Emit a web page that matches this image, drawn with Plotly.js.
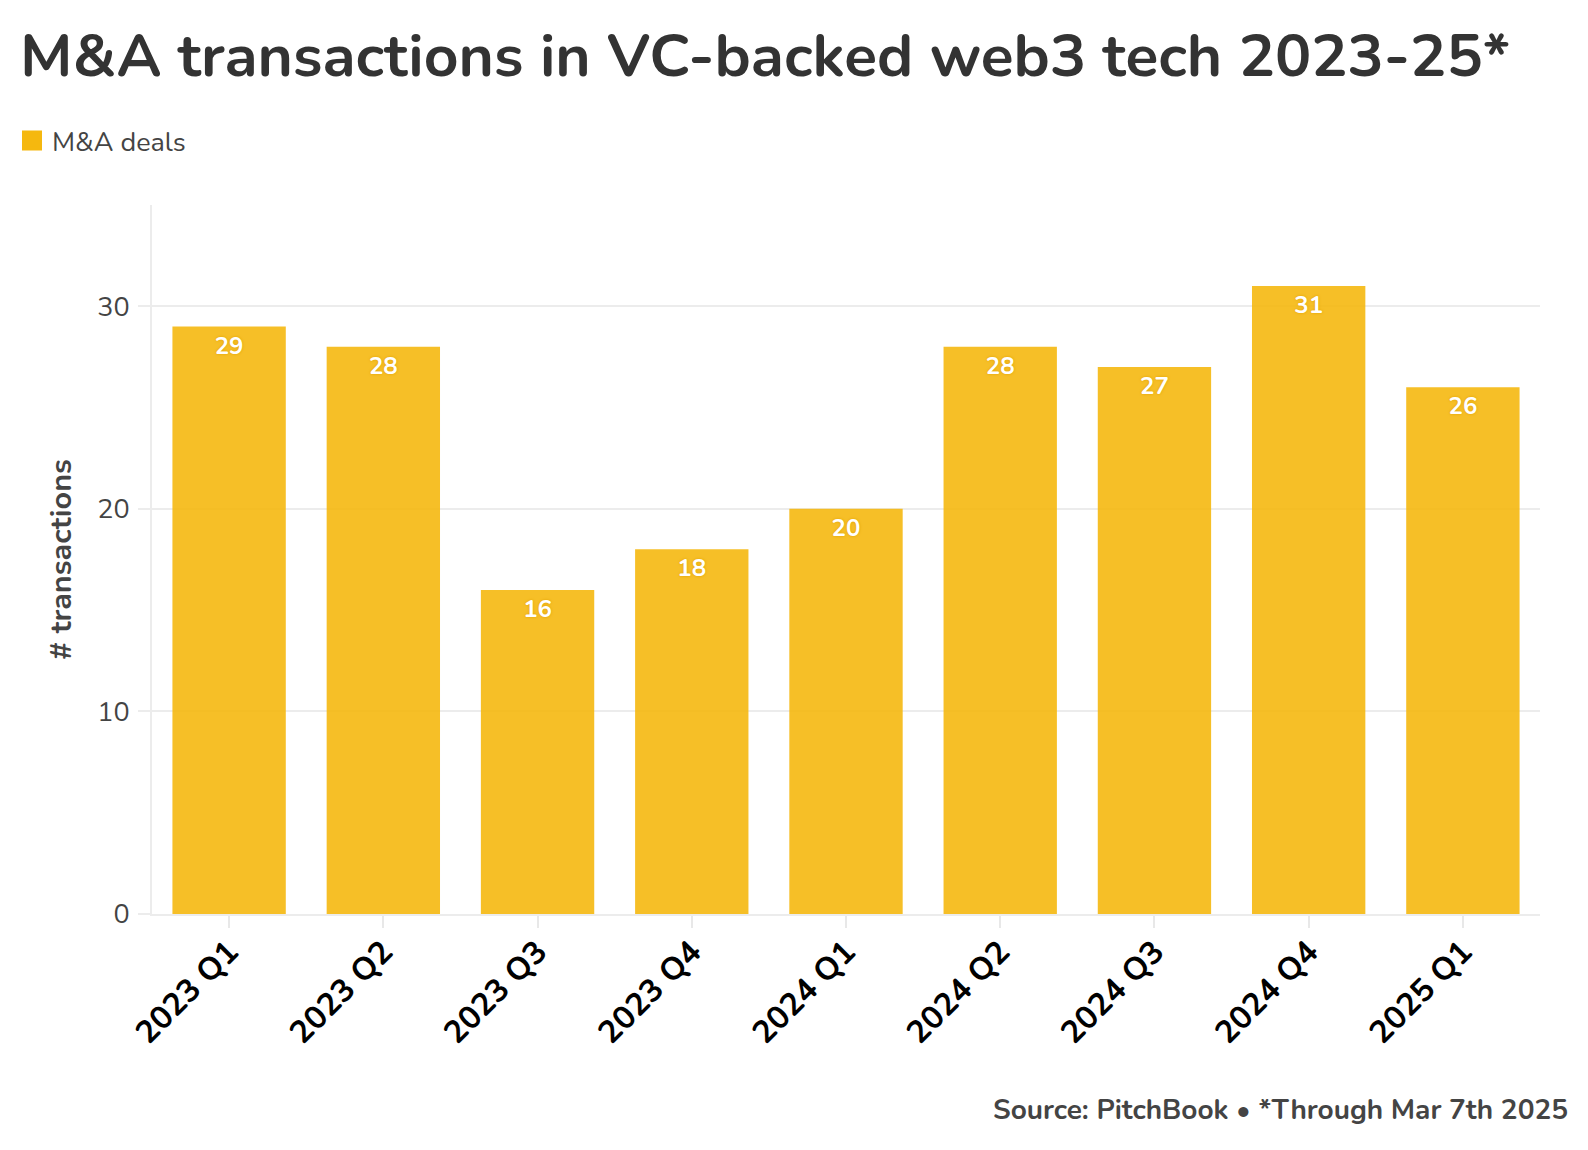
<!DOCTYPE html>
<html>
<head>
<meta charset="utf-8">
<script src="https://cdn.plot.ly/plotly-3.0.1.min.js"></script>
<style>html,body{margin:0;padding:0;background:#fff;overflow:hidden;}#chart{width:1588px;height:1150px;}</style>
</head>
<body>
<div id="chart"></div>
<script>
const categories = ["2023 Q1","2023 Q2","2023 Q3","2023 Q4","2024 Q1","2024 Q2","2024 Q3","2024 Q4","2025 Q1"];
const dealCounts = [29, 28, 16, 18, 20, 28, 27, 31, 26];
const seriesName = "M&A deals";
const yTicks = [0, 10, 20, 30];

const FONT = "Nunito, Lato, 'Noto Sans', sans-serif";
const BAR = "#F5B80F";

const W = 1588, H = 1150;
const M = {l: 152, r: 48, t: 205, b: 236};
const pw = W - M.l - M.r, ph = H - M.t - M.b;
const px = v => (v - M.l) / pw;
const py = v => (H - M.b - v) / ph;

const barTrace = {
  type: "bar",
  x: categories,
  y: dealCounts,
  name: seriesName,
  text: dealCounts.map(String),
  textposition: "inside",
  insidetextanchor: "end",
  textangle: 0,
  textfont: {family: FONT, size: 24, color: "#ffffff", weight: 700, shadow: "0px 0px 3px #E0A000"},
  marker: {color: BAR, opacity: 0.9},
  showlegend: false,
  hoverinfo: "x+y"
};

const legendTrace = {
  type: "scatter",
  mode: "markers",
  x: [null], y: [null],
  name: seriesName,
  marker: {symbol: "square", size: 16, color: BAR, line: {color: BAR, width: 4}},
  showlegend: true,
  hoverinfo: "skip"
};

const layout = {
  width: W, height: H,
  margin: M,
  paper_bgcolor: "#ffffff",
  plot_bgcolor: "#ffffff",
  font: {family: FONT, color: "#444"},
  bargap: 0.265,
  title: {
    text: "M&A transactions in VC-backed web3 tech 2023-25*",
    font: {family: FONT, size: 60.5, color: "#333", weight: 700},
    xref: "container", x: 20/W, xanchor: "left",
    yref: "container", y: 1 - 55/H, yanchor: "middle"
  },
  legend: {
    orientation: "h",
    xref: "container", x: 12/W, xanchor: "left",
    yref: "container", y: 1 - 141/H, yanchor: "middle",
    font: {family: FONT, size: 27, color: "#444"},
    itemwidth: 30
  },
  xaxis: {
    type: "category",
    tickangle: -45,
    tickfont: {family: FONT, size: 32, color: "#000", weight: 700},
    ticks: "outside", ticklen: 12, tickwidth: 2, tickcolor: "#e8e8e8",
    ticklabelstandoff: -8,
    showline: true, linecolor: "#ececec", linewidth: 2,
    showgrid: false, zeroline: false
  },
  yaxis: {
    range: [0, 35],
    tickvals: yTicks,
    tickfont: {family: FONT, size: 27, color: "#444"},
    ticks: "outside", ticklen: 12, tickwidth: 2, tickcolor: "#ececec",
    ticklabelstandoff: 3,
    showline: true, linecolor: "#ececec", linewidth: 2,
    showgrid: true, gridcolor: "#ececec", gridwidth: 2,
    zeroline: false,
    title: {text: "# transactions", font: {family: FONT, size: 30.5, color: "#444", weight: 700}, standoff: 17}
  },
  annotations: [{
    text: "Source: PitchBook • *Through Mar 7th 2025",
    xref: "paper", yref: "paper",
    x: px(1570), y: py(1110), xanchor: "right", yanchor: "middle",
    showarrow: false,
    font: {family: FONT, size: 28, color: "#444", weight: 700}
  }]
};

Plotly.newPlot("chart", [barTrace, legendTrace], layout, {displayModeBar: false, responsive: false});
</script>
</body>
</html>
